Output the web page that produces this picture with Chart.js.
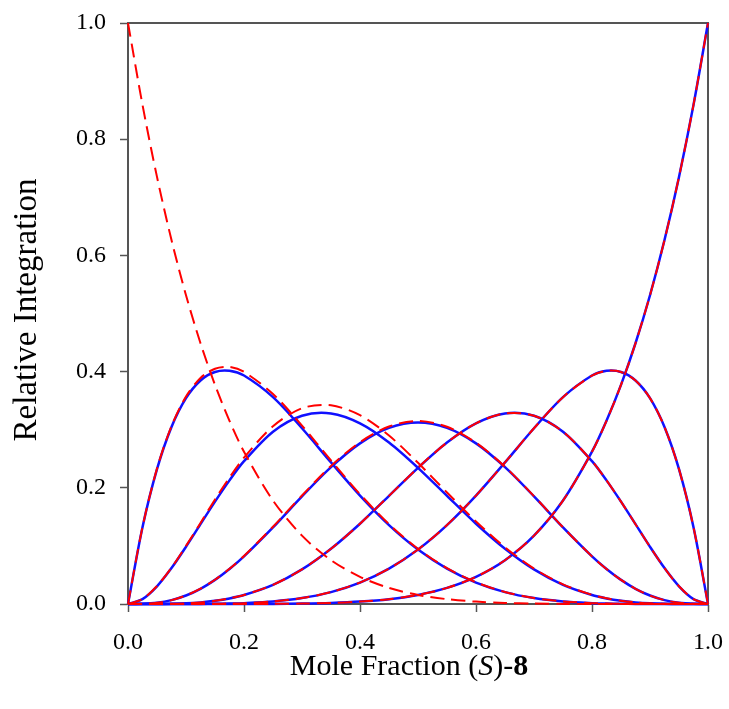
<!DOCTYPE html>
<html>
<head>
<meta charset="utf-8">
<script src="https://cdn.jsdelivr.net/npm/chart.js@4.4.1/dist/chart.umd.min.js"></script>
<style>
  body { margin: 0; background: #fff; }
  #wrap { width: 729px; height: 709px; }
</style>
</head>
<body>
<div id="wrap"><canvas id="chartCanvas" width="729" height="709"></canvas></div>
<script>
// mole fraction, sampled closer near the ends where the curves bend hard
var xValues = [0, 0.025, 0.05, 0.075, 0.1, 0.125, 0.15, 0.175, 0.2, 0.25, 0.3, 0.35, 0.4, 0.45, 0.5,
               0.55, 0.6, 0.65, 0.7, 0.75, 0.8, 0.825, 0.85, 0.875, 0.9, 0.925, 0.95, 0.975, 1];

// blue solid curves (k = 1..6)
var blue1 = [0, .1322, .2321, .3047, .3543, .3847, .3993, .4013, .3932, .3560, .3025, .2437, .1866, .1359, .0938,
             .0609, .0369, .0205, .0102, .0044, .0015, .0008, .0004, .0002, .0001, 0, 0, 0, 0];
var blue2 = [0, .0085, .0305, .0618, .0984, .1374, .1762, .2128, .2458, .2966, .3241, .3280, .3110, .2780, .2344,
             .1861, .1382, .0951, .0595, .0330, .0154, .0096, .0055, .0028, .0012, .0004, .0001, 0, 0];
var blue3 = [0, .0003, .0021, .0067, .0146, .0262, .0415, .0602, .0819, .1318, .1852, .2355, .2765, .3032, .3125,
             .3032, .2765, .2355, .1852, .1318, .0819, .0602, .0415, .0262, .0146, .0067, .0021, .0003, 0];
var blue4 = [0, 0, .0001, .0004, .0012, .0028, .0055, .0096, .0154, .0330, .0595, .0951, .1382, .1861, .2344,
             .2780, .3110, .3280, .3241, .2966, .2458, .2128, .1762, .1374, .0984, .0618, .0305, .0085, 0];
var blue5 = [0, 0, 0, 0, .0001, .0002, .0004, .0008, .0015, .0044, .0102, .0205, .0369, .0609, .0938,
             .1359, .1866, .2437, .3025, .3560, .3932, .4013, .3993, .3847, .3543, .3047, .2321, .1322, 0];
var blue6 = [0, 0, 0, 0, 0, 0, 0, 0, .0001, .0002, .0007, .0018, .0041, .0083, .0156,
             .0277, .0467, .0754, .1176, .1780, .2621, .3153, .3771, .4488, .5314, .6264, .7351, .8591, 1];

// red dashed curves (k = 0..6)
var red0 = [1, .8591, .7351, .6264, .5314, .4488, .3771, .3153, .2621, .1780, .1176, .0754, .0467, .0277, .0156,
            .0083, .0041, .0018, .0007, .0002, .0001, 0, 0, 0, 0, 0, 0, 0, 0];
var red1 = [0, .1325, .2330, .3062, .3570, .3890, .4050, .4080, .3995, .3615, .3070, .2470, .1890, .1375, .0950,
            .0617, .0374, .0208, .0104, .0045, .0015, .0008, .0004, .0002, .0001, 0, 0, 0, 0];
var red2 = [0, .0086, .0310, .0625, .1000, .1395, .1800, .2175, .2520, .3060, .3370, .3420, .3250, .2900, .2430,
            .1920, .1420, .0975, .0610, .0338, .0158, .0098, .0056, .0029, .0012, .0004, .0001, 0, 0];
var red3 = [0, .0003, .0021, .0067, .0147, .0264, .0418, .0606, .0826, .1330, .1868, .2375, .2785, .3055, .3150,
            .3050, .2775, .2362, .1857, .1320, .0820, .0603, .0415, .0262, .0146, .0067, .0021, .0003, 0];
var red4 = [0, 0, .0001, .0004, .0012, .0028, .0055, .0096, .0154, .0330, .0595, .0951, .1382, .1861, .2344,
            .2780, .3110, .3280, .3241, .2966, .2458, .2128, .1762, .1374, .0984, .0618, .0305, .0085, 0];
var red5 = [0, 0, 0, 0, .0001, .0002, .0004, .0008, .0015, .0044, .0102, .0205, .0369, .0609, .0938,
            .1359, .1866, .2437, .3025, .3560, .3932, .4013, .3993, .3847, .3543, .3047, .2321, .1322, 0];
var red6 = [0, 0, 0, 0, 0, 0, 0, 0, .0001, .0002, .0007, .0018, .0041, .0083, .0156,
            .0277, .0467, .0754, .1176, .1780, .2621, .3153, .3771, .4488, .5314, .6264, .7351, .8591, 1];

var xTickLabels = ['0.0', '0.2', '0.4', '0.6', '0.8', '1.0'];
var yTickLabels = ['0.0', '0.2', '0.4', '0.6', '0.8', '1.0'];
var yTitle = 'Relative Integration';

var axisColor = '#555555';
var serif = '"Liberation Serif", "Times New Roman", serif';

function toPoints(ys) {
  return xValues.map(function(x, i) { return { x: x, y: ys[i] }; });
}

function blueLine(ys) {
  return {
    data: toPoints(ys),
    borderColor: '#1010ff',
    borderWidth: 2.5,
    pointRadius: 0,
    tension: 0.3,
    clip: 6,
    order: 2
  };
}

function redLine(ys) {
  return {
    data: toPoints(ys),
    borderColor: '#ff0000',
    borderWidth: 2,
    borderDash: [14, 7],
    pointRadius: 0,
    tension: 0.3,
    clip: 6,
    order: 1
  };
}

// scales must not add their own label overflow padding
function noPad(scale) {
  scale.paddingLeft = 0;
  scale.paddingRight = 0;
  scale.paddingTop = 0;
  scale.paddingBottom = 0;
}

// frame on top and right plus the axis titles
var framePlugin = {
  id: 'framePlugin',
  beforeDatasetsDraw: function(chart) {
    var a = chart.chartArea, ctx = chart.ctx;
    ctx.save();
    ctx.strokeStyle = axisColor;
    ctx.lineWidth = 2;
    ctx.strokeRect(a.left, a.top, a.right - a.left, a.bottom - a.top);
    ctx.restore();
  },
  afterDraw: function(chart) {
    var ctx = chart.ctx;
    ctx.save();
    ctx.fillStyle = '#000';
    // y title
    ctx.translate(27, 310);
    ctx.rotate(-Math.PI / 2);
    ctx.font = '33px ' + serif;
    ctx.textAlign = 'center';
    ctx.textBaseline = 'middle';
    ctx.fillText(yTitle, 0, 0);
    ctx.restore();

    // x title with italic S and bold 8
    var parts = [
      { t: 'Mole Fraction (', f: '30px ' + serif },
      { t: 'S', f: 'italic 30px ' + serif },
      { t: ')-', f: '30px ' + serif },
      { t: '8', f: 'bold 30px ' + serif }
    ];
    ctx.save();
    ctx.fillStyle = '#000';
    ctx.textBaseline = 'alphabetic';
    var total = 0;
    parts.forEach(function(p) { ctx.font = p.f; p.w = ctx.measureText(p.t).width; total += p.w; });
    var x = 409 - total / 2;
    parts.forEach(function(p) {
      ctx.font = p.f;
      ctx.fillText(p.t, x, 675);
      x += p.w;
    });
    ctx.restore();
  }
};

var ctx = document.getElementById('chartCanvas').getContext('2d');
new Chart(ctx, {
  type: 'line',
  data: {
    datasets: [
      blueLine(blue1), blueLine(blue2), blueLine(blue3),
      blueLine(blue4), blueLine(blue5), blueLine(blue6),
      redLine(red0), redLine(red1), redLine(red2), redLine(red3),
      redLine(red4), redLine(red5), redLine(red6)
    ]
  },
  options: {
    responsive: false,
    animation: false,
    devicePixelRatio: 1,
    layout: { padding: { top: 23, right: 21, left: 0, bottom: 0 } },
    plugins: { legend: { display: false }, tooltip: { enabled: false } },
    scales: {
      x: {
        type: 'linear',
        min: 0, max: 1,
        afterFit: function(scale) { scale.height = 105; noPad(scale); },
        ticks: {
          stepSize: 0.2,
          padding: 16,
          color: '#000',
          font: { family: serif, size: 24 },
          maxRotation: 0,
          callback: function(v) { return xTickLabels[Math.round(v / 0.2)]; }
        },
        grid: { drawOnChartArea: false, tickLength: 8, tickColor: axisColor, tickWidth: 1.5 },
        border: { color: axisColor, width: 2 }
      },
      y: {
        type: 'linear',
        min: 0, max: 1,
        afterFit: function(scale) { scale.width = 128; noPad(scale); },
        ticks: {
          stepSize: 0.2,
          padding: 14,
          color: '#000',
          font: { family: serif, size: 24 },
          callback: function(v) { return yTickLabels[Math.round(v / 0.2)]; }
        },
        grid: { drawOnChartArea: false, tickLength: 8, tickColor: axisColor, tickWidth: 1.5 },
        border: { color: axisColor, width: 2 }
      }
    }
  },
  plugins: [framePlugin]
});
</script>
</body>
</html>
